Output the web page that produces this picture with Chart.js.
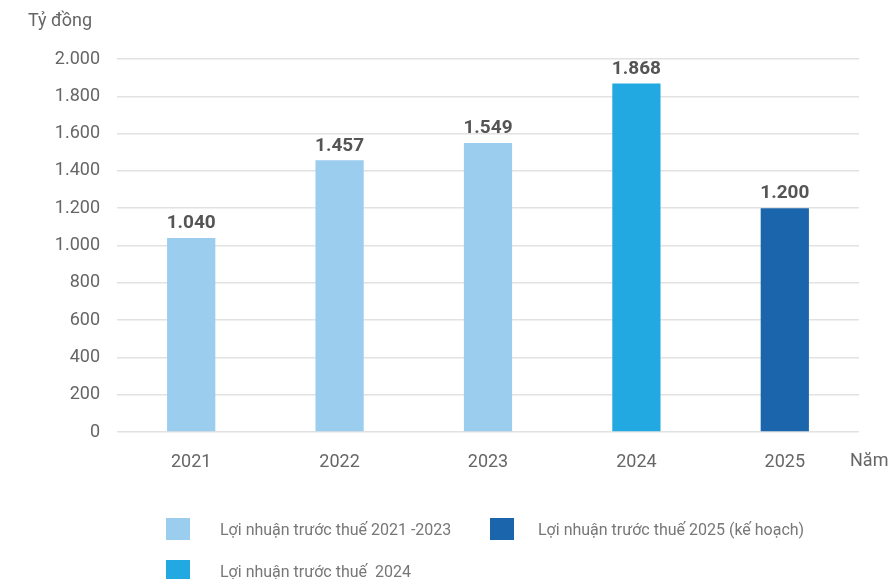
<!DOCTYPE html>
<html>
<head>
<meta charset="utf-8">
<script src="https://cdn.jsdelivr.net/npm/chart.js@4"></script>
<style>
  html, body { margin: 0; padding: 0; background: #fff; }
  #wrap { position: relative; width: 893px; height: 579px; overflow: hidden; font-family: Roboto, sans-serif; }
  .lg { position: absolute; display: flex; align-items: center; font-size: 16px; color: #777; white-space: nowrap; }
  .lg span.box { display: inline-block; width: 24px; height: 22px; margin-right: 30px; }
</style>
</head>
<body>
<div id="wrap">
  <canvas id="c" width="893" height="579"></canvas>
  <div class="lg" style="left:166px;top:518px;"><span class="box" style="background:#9ACDEE"></span>Lợi nhuận trước thuế 2021 -2023</div>
  <div class="lg" style="left:490px;top:518px;"><span class="box" style="background:#1B65AC;margin-right:24px"></span>Lợi nhuận trước thuế 2025 (kế hoạch)</div>
  <div class="lg" style="left:166px;top:560px;"><span class="box" style="background:#22A9E1"></span>Lợi nhuận trước thuế&nbsp; 2024</div>
</div>
<script>
const years = ["2021", "2022", "2023", "2024", "2025"];
const profit = [1040, 1457, 1549, 1868, 1200];
const barColors = ["#9ACDEE", "#9ACDEE", "#9ACDEE", "#22A9E1", "#1B65AC"];

const fmt = v => String(v).replace(/\B(?=(\d{3})+(?!\d))/g, ".");

// labels above bars + axis titles
const extras = {
  id: "extras",
  afterDatasetsDraw(chart) {
    const ctx = chart.ctx;
    const meta = chart.getDatasetMeta(0);
    ctx.save();
    ctx.font = "bold 19px Roboto";
    ctx.fillStyle = "#555";
    ctx.textAlign = "center";
    ctx.textBaseline = "bottom";
    meta.data.forEach((bar, i) => {
      ctx.fillText(fmt(profit[i]), bar.x, bar.y - 5);
    });
    ctx.font = "18px Roboto";
    ctx.fillStyle = "#666";
    ctx.textBaseline = "middle";
    ctx.textAlign = "left";
    ctx.fillText("Tỷ đồng", 28, 21);
    ctx.fillText("Năm", 850, 461);
    ctx.restore();
  }
};

new Chart(document.getElementById("c"), {
  type: "bar",
  data: {
    labels: years,
    datasets: [{
      data: profit,
      backgroundColor: barColors,
      barPercentage: 0.65,
      categoryPercentage: 0.5
    }]
  },
  options: {
    responsive: false,
    animation: false,
    layout: { padding: { top: 59, right: 34, left: 0, bottom: 0 } },
    plugins: { legend: { display: false }, tooltip: { enabled: false } },
    scales: {
      x: {
        grid: { display: false, drawTicks: false },
        border: { display: false },
        ticks: { color: "#666", font: { size: 18, family: "Roboto" }, padding: 20 },
        afterFit(s) { s.height = 147; }
      },
      y: {
        min: 0, max: 2000,
        grid: { color: "#e2e2e2", lineWidth: 1.5, drawTicks: false },
        border: { display: false },
        ticks: { stepSize: 200, color: "#666", font: { size: 18, family: "Roboto" }, padding: 17, callback: v => fmt(v) },
        afterFit(s) { s.width = 117; }
      }
    }
  },
  plugins: [extras]
});
</script>
</body>
</html>
